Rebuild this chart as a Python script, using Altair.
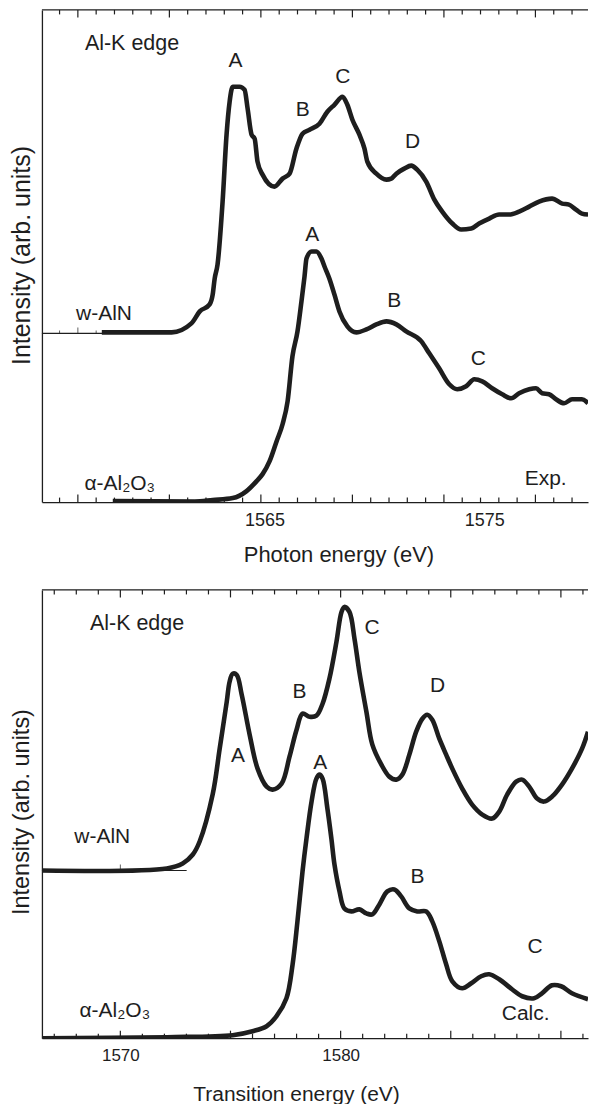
import altair as alt
import pandas as pd

INK = "#1e1e1e"
FONT = "Liberation Sans"

# ---------------- top panel : experiment ----------------
exp_aln_energy = [1557.59, 1560.77, 1561.67, 1562.05, 1562.50, 1562.64, 1562.73, 1562.86, 1563.09, 1563.27,
                  1563.41, 1563.55, 1563.86, 1564.09, 1564.23, 1564.41, 1564.55, 1564.68, 1564.91, 1565.45,
                  1565.82, 1566.14, 1566.45, 1566.73, 1567.05, 1567.50, 1567.86, 1568.18, 1568.55, 1568.77,
                  1569.00, 1569.32, 1569.55, 1569.68, 1570.09, 1570.55, 1570.77, 1571.00, 1571.36, 1571.68,
                  1571.95, 1572.36, 1572.73, 1573.09, 1573.55, 1573.95, 1574.41, 1574.77, 1575.23, 1575.68,
                  1576.14, 1576.59, 1577.05, 1577.50, 1578.09, 1578.55, 1578.86, 1579.18, 1579.45, 1579.73]
exp_aln_intensity = [17.0, 17.0, 17.9, 19.1, 19.8, 20.8, 22.4, 23.8, 30.1, 36.8,
                     40.1, 41.6, 41.6, 41.3, 39.4, 36.8, 36.4, 34.1, 32.8, 31.6,
                     32.4, 32.9, 35.4, 36.9, 37.3, 37.9, 39.1, 39.8, 40.6, 39.8,
                     38.3, 36.8, 35.4, 34.1, 32.9, 32.3, 32.4, 32.9, 33.4, 33.7,
                     33.3, 32.1, 30.3, 29.1, 27.9, 27.3, 27.4, 27.9, 28.4, 28.8,
                     28.8, 29.1, 29.6, 30.1, 30.4, 29.9, 29.8, 29.3, 28.9, 28.8]
exp_al2o3_energy = [1558.09, 1561.82, 1562.64, 1563.55, 1564.18, 1564.64, 1564.91, 1565.23, 1565.55, 1565.82,
                    1566.05, 1566.27, 1566.50, 1566.68, 1566.82, 1566.91, 1567.14, 1567.36, 1567.59, 1567.73,
                    1567.95, 1568.18, 1568.41, 1568.77, 1569.18, 1569.64, 1570.09, 1570.55, 1571.00, 1571.45,
                    1572.14, 1572.50, 1572.95, 1573.41, 1573.77, 1574.18, 1574.55, 1574.91, 1575.36, 1575.82,
                    1576.23, 1576.59, 1577.05, 1577.36, 1577.64, 1577.95, 1578.27, 1578.64, 1579.00, 1579.45,
                    1579.73]
exp_al2o3_intensity = [0.1, 0.05, 0.2, 0.4, 1.1, 2.1, 2.8, 4.1, 6.1, 7.8,
                       10.1, 14.6, 17.1, 20.1, 22.6, 24.4, 25.1, 25.1, 24.4, 23.6,
                       22.4, 20.8, 19.1, 17.6, 17.0, 17.3, 17.8, 18.1, 17.8, 17.1,
                       16.1, 14.9, 13.4, 11.8, 11.3, 11.6, 12.3, 12.1, 11.4, 10.8,
                       10.4, 10.9, 11.3, 11.4, 10.9, 10.8, 10.3, 9.9, 10.3, 10.3,
                       9.9]
exp_domain = [1554.864, 1579.727]
exp_ymax = 49.3
exp_tick_labels = [1565, 1575]
exp_minor_ticks = [1555.667, 1557.333, 1558.167, 1559.0, 1559.833, 1561.5, 1562.333, 1563.167, 1564.0,
                   1565.667, 1566.5, 1567.333, 1568.167, 1569.833, 1570.667, 1571.5, 1572.333, 1574.0,
                   1574.833, 1575.667, 1576.5, 1578.167, 1579.0]
exp_major_ticks = [1556.5, 1560.667, 1564.833, 1569.0, 1573.167, 1577.333]
exp_ref_energy = [1554.864, 1560.77]
exp_ref_level = 16.9
exp_ref_minor = [1555.667, 1557.333]
exp_ref_major = [1556.5]
exp_text = ["A", "B", "C", "D", "A", "B", "C", "w-AlN", "α-Al₂O₃", "Exp."]
exp_text_energy = [1563.68, 1566.74, 1568.56, 1571.74, 1567.17, 1570.91, 1574.73, 1557.69, 1558.41, 1577.80]
exp_text_intensity = [44.2, 39.3, 42.6, 36.1, 26.8, 20.1, 14.3, 18.8, 1.85, 2.3]
exp_edge = ("Al-K edge", 1556.82, 45.9)

# ---------------- bottom panel : calculation ----------------
calc_aln_energy = [1566.44, 1572.11, 1572.83, 1573.29, 1573.60, 1574.19, 1574.51, 1574.83, 1574.96, 1575.10,
                   1575.28, 1575.51, 1575.87, 1576.23, 1576.64, 1576.91, 1577.32, 1577.68, 1578.00, 1578.27,
                   1578.59, 1578.90, 1579.18, 1579.49, 1579.81, 1580.04, 1580.17, 1580.40, 1580.63, 1580.85,
                   1581.17, 1581.44, 1581.85, 1582.21, 1582.53, 1582.80, 1583.12, 1583.43, 1583.71, 1583.93,
                   1584.16, 1584.48, 1584.79, 1585.07, 1585.52, 1585.97, 1586.43, 1586.88, 1587.20, 1587.56,
                   1587.97, 1588.24, 1588.56, 1588.92, 1589.23, 1589.60, 1590.05, 1590.50, 1590.96, 1591.23]
calc_aln_intensity = [16.8, 17.0, 17.5, 18.4, 19.7, 24.4, 29.0, 33.7, 35.7, 36.5,
                      36.4, 34.4, 30.4, 27.0, 25.2, 24.9, 25.5, 28.2, 30.9, 32.5,
                      32.2, 32.3, 33.5, 36.0, 39.7, 42.7, 43.2, 42.7, 40.0, 36.7,
                      32.7, 29.4, 27.4, 26.2, 25.9, 26.4, 28.4, 30.7, 32.0, 32.4,
                      31.9, 30.0, 28.4, 27.0, 25.0, 23.4, 22.4, 22.0, 22.7, 24.4,
                      25.7, 25.9, 25.2, 24.0, 23.7, 24.2, 25.4, 27.0, 29.0, 30.7]
calc_al2o3_energy = [1566.44, 1572.11, 1575.10, 1576.00, 1576.64, 1577.09, 1577.54, 1577.82, 1578.04, 1578.27,
                     1578.45, 1578.68, 1578.90, 1579.04, 1579.18, 1579.40, 1579.58, 1579.72, 1579.95, 1580.17,
                     1580.49, 1580.85, 1581.17, 1581.44, 1581.76, 1582.12, 1582.44, 1582.75, 1583.12, 1583.48,
                     1583.89, 1584.16, 1584.48, 1584.79, 1585.07, 1585.52, 1585.93, 1586.38, 1586.74, 1587.20,
                     1587.78, 1588.24, 1588.78, 1589.14, 1589.60, 1590.01, 1590.50, 1591.23]
calc_al2o3_intensity = [0.0, 0.1, 0.3, 0.7, 1.2, 2.2, 4.0, 7.4, 11.7, 16.7,
                        20.0, 23.7, 26.0, 26.4, 26.0, 23.0, 20.0, 17.4, 14.7, 13.0,
                        12.7, 12.9, 12.5, 12.4, 13.4, 14.7, 14.9, 14.2, 13.0, 12.7,
                        12.7, 11.7, 9.7, 7.4, 5.7, 5.0, 5.5, 6.2, 6.4, 5.9,
                        4.9, 4.2, 4.0, 4.5, 5.3, 5.2, 4.5, 3.9]
calc_domain = [1566.44, 1591.23]
calc_ymax = 44.9
calc_tick_labels = [1570, 1580]
calc_minor_ticks = [1567, 1568, 1569, 1571, 1572, 1573, 1574, 1576, 1577, 1578, 1579, 1581, 1582,
                    1583, 1584, 1586, 1587, 1588, 1589, 1591]
calc_major_ticks = [1570, 1575, 1580, 1585, 1590]
calc_ref_energy = [1566.44, 1573.01]
calc_ref_level = 16.8
calc_ref_minor = []
calc_ref_major = [1570]
calc_text = ["A", "B", "C", "D", "A", "B", "C", "w-AlN", "α-Al₂O₃", "Calc."]
calc_text_energy = [1575.34, 1578.13, 1581.43, 1584.40, 1579.07, 1583.49, 1588.83, 1569.18, 1569.75, 1588.40]
calc_text_intensity = [28.3, 34.7, 41.05, 35.3, 27.6, 16.1, 9.15, 20.15, 2.73, 2.45]
calc_edge = ("Al-K edge", 1568.62, 41.5)

W = 547


def panel(curves, interp, ref_energy, ref_level, ref_minor, ref_major, minor, major, text, text_e,
          text_i, edge, domain, ymax, H, labels, xtitle, title_x, title_y, lab_size, xt_size,
          yt_size, yt_x, yt_y, txt_size):
    xs = alt.Scale(domain=domain, nice=False, zero=False)
    ys = alt.Scale(domain=[0, ymax], nice=False, zero=False)
    xaxis = alt.Axis(values=labels, format="d", ticks=False, tickSize=0, grid=False,
                     domainColor=INK, domainWidth=1.3, labelFont=FONT, labelFontSize=lab_size,
                     labelColor=INK, labelPadding=9, title=xtitle, titleFont=FONT,
                     titleFontSize=xt_size, titleFontWeight="normal", titleColor=INK,
                     titleX=title_x, titleY=title_y, titleAlign="center", titleBaseline="alphabetic")
    yaxis = alt.Axis(ticks=False, tickSize=0, labels=False, grid=False, domainColor=INK,
                     domainWidth=1.3, title="Intensity (arb. units)", titleFont=FONT,
                     titleFontSize=yt_size, titleFontWeight="normal", titleColor=INK,
                     titleAngle=270, titleX=yt_x, titleY=yt_y, titleAlign="center",
                     titleBaseline="middle")
    X = alt.X("energy:Q", scale=xs, axis=xaxis)
    Y = alt.Y("intensity:Q", scale=ys, axis=yaxis)

    rows = []
    for name, es, vs in curves:
        for k, (e, v) in enumerate(zip(es, vs)):
            rows.append({"series": name, "energy": e, "intensity": v, "order": k})
    cdf = pd.DataFrame(rows)
    lines = alt.Chart(cdf).mark_line(color=INK, strokeWidth=4.6, interpolate=interp,
                                     clip=True, strokeJoin="round").encode(
        x=X, y=Y, detail="series:N", order="order:Q")

    ref = alt.Chart(pd.DataFrame({"energy": ref_energy,
                                  "intensity": [ref_level] * len(ref_energy)})).mark_line(
        color=INK, strokeWidth=1.1).encode(x=X, y=Y)
    layers = [ref]
    if ref_minor:
        layers.append(alt.Chart(pd.DataFrame({"energy": ref_minor,
                                              "intensity": [ref_level] * len(ref_minor)})).mark_tick(
            orient="vertical", size=3, thickness=1, color=INK, yOffset=-1.5).encode(x=X, y=Y))
    if ref_major:
        layers.append(alt.Chart(pd.DataFrame({"energy": ref_major,
                                              "intensity": [ref_level] * len(ref_major)})).mark_tick(
            orient="vertical", size=6, thickness=1, color=INK, yOffset=-3).encode(x=X, y=Y))
    layers.append(lines)

    mdf = pd.DataFrame({"energy": minor})
    Mdf = pd.DataFrame({"energy": major})
    for d, s in ((mdf, 4.5), (Mdf, 7.5)):
        layers.append(alt.Chart(d).mark_rule(color=INK, strokeWidth=1.2).encode(
            x=X, y=alt.value(0), y2=alt.value(s)))
        layers.append(alt.Chart(d).mark_rule(color=INK, strokeWidth=1.2).encode(
            x=X, y=alt.value(H), y2=alt.value(H - s)))
    # top frame line
    layers.append(alt.Chart(pd.DataFrame({"energy": [domain[0]]})).mark_rule(
        color=INK, strokeWidth=1.3).encode(x=alt.value(0), x2=alt.value(W), y=alt.value(0)))

    tdf = pd.DataFrame({"label": text, "energy": text_e, "intensity": text_i})
    layers.append(alt.Chart(tdf).mark_text(font=FONT, fontSize=txt_size, color=INK,
                                           align="center", baseline="middle").encode(
        x=X, y=Y, text="label:N"))
    edf = pd.DataFrame({"label": [edge[0]], "energy": [edge[1]], "intensity": [edge[2]]})
    layers.append(alt.Chart(edf).mark_text(font=FONT, fontSize=txt_size + 0.5, color=INK,
                                           align="left", baseline="middle").encode(
        x=X, y=Y, text="label:N"))
    return alt.layer(*layers).properties(width=W, height=H)


top = panel([("w-AlN", exp_aln_energy, exp_aln_intensity),
             ("a-Al2O3", exp_al2o3_energy, exp_al2o3_intensity)], "monotone",
            exp_ref_energy, exp_ref_level, exp_ref_minor, exp_ref_major,
            exp_minor_ticks, exp_major_ticks, exp_text, exp_text_energy, exp_text_intensity,
            exp_edge, exp_domain, exp_ymax, 493, exp_tick_labels, "Photon energy (eV)",
            297, 60, 18, 22, 25, -20, 245.5, 21)

bottom = panel([("w-AlN", calc_aln_energy, calc_aln_intensity),
                ("a-Al2O3", calc_al2o3_energy, calc_al2o3_intensity)], "catmull-rom",
               calc_ref_energy, calc_ref_level, calc_ref_minor, calc_ref_major,
               calc_minor_ticks, calc_major_ticks, calc_text, calc_text_energy, calc_text_intensity,
               calc_edge, calc_domain, calc_ymax, 449, calc_tick_labels, "Transition energy (eV)",
               254.5, 62.5, 17, 21, 23.5, -20.75, 222, 21)

chart = alt.vconcat(top, bottom, spacing=23).properties(
    padding={"left": 9, "top": 8, "right": 0, "bottom": 0},
    background="white",
).configure_view(stroke=None).configure_concat(spacing=23)

chart.save("out.html", embed_options={"renderer": "svg", "actions": False})
